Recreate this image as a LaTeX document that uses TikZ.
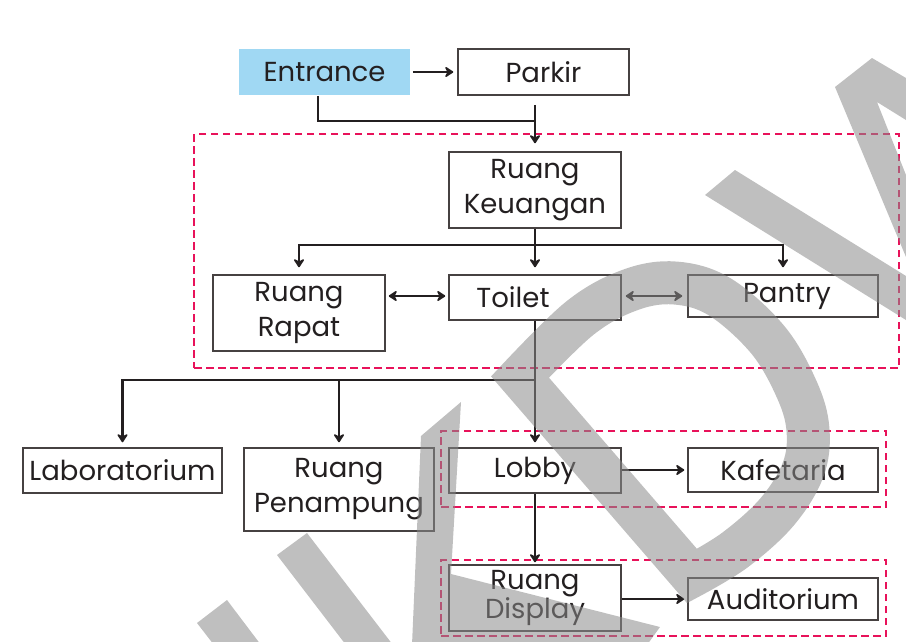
\documentclass[tikz,border=0pt]{standalone}
\usepackage{fontspec}
\setmainfont{Poppins}
\usetikzlibrary{arrows.meta}
\definecolor{ink}{RGB}{35,31,32}
\definecolor{boxline}{RGB}{70,65,65}
\definecolor{dashred}{RGB}{232,18,90}
\definecolor{entblue}{RGB}{160,216,243}
\definecolor{wmark}{RGB}{139,139,139}
\begin{document}
\begin{tikzpicture}[x=1pt,y=-1pt,
  box/.style={draw=boxline, line width=1.5pt, inner sep=0pt, align=center, text=ink,
    font=\fontsize{27.5}{35}\selectfont},
  zone/.style={draw=dashred, line width=2.6pt, dash pattern=on 7.5pt off 4.5pt, inner sep=0pt},
  conn/.style={draw=ink, line width=2.8pt, -{Stealth[length=10pt,width=13pt,inset=3.5pt,round]}},
  dbl/.style={draw=ink, line width=2.8pt, {Stealth[length=10pt,width=13pt,inset=3.5pt,round]}-{Stealth[length=10pt,width=13pt,inset=3.5pt,round]}},
  wire/.style={draw=ink, line width=2.8pt},
  wm/.style={fill=wmark, fill opacity=0.55},
  wmline/.style={draw=wmark, draw opacity=0.55, line width=43pt, line join=miter, miter limit=4}]
\useasboundingbox (0,0) rectangle (906,641);

% dashed zones
\node[zone, minimum width=705pt, minimum height=234pt] (zone1) at (546.5,251) {};
\node[zone, minimum width=445pt, minimum height=76pt] (zone2) at (663.5,469) {};
\node[zone, minimum width=445pt, minimum height=76pt] (zone3) at (663.5,598) {};

% boxes
\node[box, draw=none, fill=entblue, minimum width=171pt, minimum height=46pt] (entr) at (324.5,72) {Entrance};
\node[box, minimum width=171pt, minimum height=46pt] (park) at (543.5,72) {Parkir};
\node[box, minimum width=172pt, minimum height=76pt] (keu) at (535,190) {\raisebox{-4pt}{Ruang}\\\raisebox{-4pt}{Keuangan}};
\node[box, minimum width=172pt, minimum height=76pt] (rapat) at (299,313) {\raisebox{-3pt}{Ruang}\\\raisebox{-3pt}{Rapat}};
\node[box, minimum width=172pt, minimum height=45pt] (toil) at (535,297.5) {Toilet\hspace*{44pt}};
\node[box, minimum width=190pt, minimum height=42pt] (pantry) at (783,296) {\hspace*{8pt}Pantry};
\node[box, minimum width=199pt, minimum height=45pt] (lab) at (122.5,470.5) {Laboratorium};
\node[box, minimum width=190pt, minimum height=83pt] (pen) at (339,489.5) {Ruang\\Penampung};
\node[box, minimum width=172pt, minimum height=45pt] (lobby) at (535,470.5) {Lobby};
\node[box, minimum width=190pt, minimum height=44pt] (kafe) at (783,470) {Kafetaria};
\node[box, minimum width=172pt, minimum height=66pt, font=\fontsize{27.5}{28}\selectfont] (disp) at (535,598) {Ruang\\Display};
\node[box, minimum width=190pt, minimum height=42pt] (aud) at (783,599) {Auditorium};

% junctions
\coordinate (j1) at (535,121);
\coordinate (b1) at (535,245);
\coordinate (b2) at (535,380);

% connectors
\draw[conn, shorten <=2pt, shorten >=4pt] (entr.east |- park.west) -- (park.west);
\draw[wire] ([xshift=-6.5pt]entr.south) |- (j1);
\draw[conn, shorten <=9pt, shorten >=8pt] (park.south -| keu.north) -- (keu.north);
\draw[conn, shorten >=7pt] (keu.south) -- (toil.north);
\draw[conn, shorten >=7pt] (b1) -| (rapat.north);
\draw[conn, shorten >=7pt] (b1) -| (pantry.north);
\draw[dbl, shorten <=3pt, shorten >=3pt] (rapat.east |- pantry.west) -- (toil.west |- pantry.west);
\draw[dbl, shorten <=4pt, shorten >=5pt] (toil.east |- pantry.west) -- (pantry.west);
\draw[conn, shorten >=5pt] (toil.south) -- (lobby.north);
\draw[conn, shorten >=5pt] (b2) -| (lab.north);
\draw[conn, shorten >=5pt] (b2) -| (pen.north);
\draw[conn, shorten >=3pt] (lobby.east |- kafe.west) -- (kafe.west);
\draw[conn, shorten >=2pt] (lobby.south) -- (disp.north);
\draw[conn, shorten >=3pt] (disp.east |- aud.west) -- (aud.west);

% watermark
\fill[wm] (197,623) -- (227,600) -- (261,645) -- (214,645) -- cycle
  (277,555) -- (307,533) -- (393,645) -- (346,645) -- cycle
  (421,436) -- (461,402) -- (451,574) -- (660,627) -- (647,645) -- (412,645) -- cycle
  (705,195) -- (735,170) -- (906,276) -- (906,320) -- cycle
  (835,87) -- (872,58) -- (906,78) -- (906,120) -- (877,102) -- (906,175) -- (906,257) -- cycle;
\draw[wmline] plot[smooth, tension=0.6] coordinates {(520,377) (580,318) (630,290) (675,283) (720,297) (768,340) (797,390) (808,430) (803,470) (777,512) (735,550) (692,576)} -- cycle;
\end{tikzpicture}
\end{document}
